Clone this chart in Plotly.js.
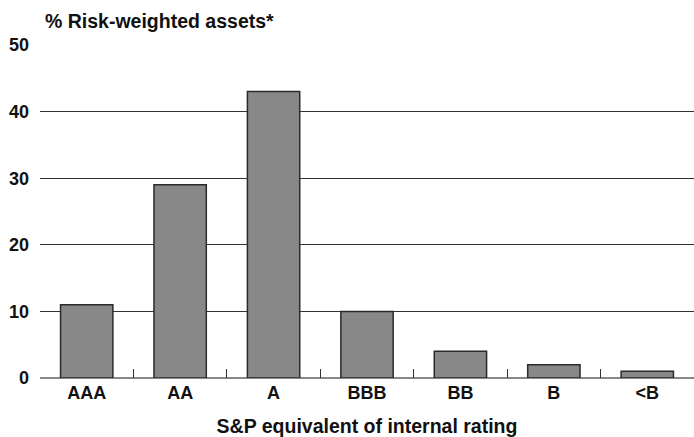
<!DOCTYPE html>
<html>
<head>
<meta charset="utf-8">
<script src="https://cdn.plot.ly/plotly-3.0.1.min.js"></script>
<style>html,body{margin:0;padding:0;background:#fff;}#chart{width:694px;height:437px;}</style>
</head>
<body>
<div id="chart"></div>
<script>
const categories = ["AAA", "AA", "A", "BBB", "BB", "B", "<B"];
const values = [11, 29, 43, 10, 4, 2, 1];
const yTicks = [0, 10, 20, 30, 40, 50];

const FONT = "'Liberation Sans', Arial, Helvetica, sans-serif";

const trace = {
  type: "bar",
  x: categories,
  y: values,
  marker: { color: "#888888", line: { color: "#2a2a2a", width: 1.5 } },
  hoverinfo: "none"
};

const layout = {
  width: 694,
  height: 437,
  margin: { l: 40, r: 0, t: 45, b: 59 },
  paper_bgcolor: "#ffffff",
  plot_bgcolor: "#ffffff",
  showlegend: false,
  bargap: 0.44,
  font: { family: FONT, color: "#111", size: 14 },
  xaxis: {
    type: "category",
    tickson: "boundaries",
    ticks: "inside",
    ticklen: 9,
    tickwidth: 1,
    tickcolor: "#333",
    showgrid: false,
    showline: false,
    zeroline: false,
    ticklabelstandoff: 2,
    tickfont: { family: FONT, size: 18, color: "#111", weight: "bold" },
    title: { text: "S&P equivalent of internal rating", font: { family: FONT, size: 19.5, color: "#111", weight: "bold" }, standoff: 18 }
  },
  yaxis: {
    range: [0, 50],
    tickvals: yTicks,
    ticktext: yTicks.map(String),
    showgrid: true,
    gridcolor: "#333",
    gridwidth: 1,
    zeroline: true,
    zerolinecolor: "#888",
    zerolinewidth: 2,
    showline: false,
    ticks: "",
    ticklabelstandoff: 10,
    tickfont: { family: FONT, size: 18, color: "#111", weight: "bold" }
  },
  annotations: [{
    text: "% Risk-weighted assets*",
    xref: "paper", yref: "paper",
    x: 0, y: 1, xanchor: "left", yanchor: "bottom",
    xshift: 3, yshift: 11,
    showarrow: false,
    font: { family: FONT, size: 19.5, color: "#111", weight: "bold" }
  }]
};

Plotly.newPlot("chart", [trace], layout, { displayModeBar: false, staticPlot: true });
</script>
</body>
</html>
